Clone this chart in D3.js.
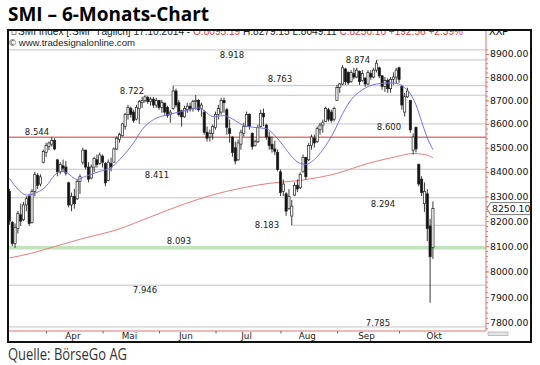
<!DOCTYPE html>
<html>
<head>
<meta charset="utf-8">
<script src="https://cdn.jsdelivr.net/npm/d3@7/dist/d3.min.js"></script>
<style>
  body { margin: 0; background: #fff; }
  svg { display: block; }
  text { font-family: "DejaVu Sans", sans-serif; }
</style>
</head>
<body>
<svg id="chart"></svg>
<script>
// daily candles, 13.03.2014 - 17.10.2014 (trading day index 0..150)
const opens  = [8320,8195,8110,8170,8225,8205,8265,8300,8195,8320,8385,8350,8440,8480,8505,8515,8530,8450,8400,8425,
                8420,8355,8265,8300,8290,8360,8440,8490,8420,8375,8420,8450,8435,8465,8435,8365,8435,8440,8495,8535,
                8550,8590,8640,8665,8650,8620,8665,8690,8700,8712,8695,8705,8680,8700,8670,8688,8670,8640,8665,8740,
                8690,8655,8630,8660,8675,8665,8695,8700,8665,8650,8565,8545,8560,8585,8640,8650,8700,8660,8580,8545,
                8500,8450,8515,8560,8590,8640,8560,8510,8525,8590,8645,8595,8545,8515,8495,8480,8400,8320,8310,8250,
                8220,8305,8345,8335,8400,8460,8450,8510,8540,8525,8575,8595,8610,8660,8650,8620,8700,8755,8770,8835,
                8820,8780,8815,8800,8825,8785,8795,8770,8815,8800,8830,8840,8805,8760,8785,8750,8790,8800,8840,8760,
                8650,8715,8700,8490,8585,8430,8370,8270,8310,8180,8095.19];
const highs  = [8330,8200,8190,8240,8270,8277,8300,8310,8330,8400,8395,8390,8492,8521,8526,8544,8540,8451,8440,8451,
                8445,8360,8315,8330,8370,8390,8500,8492,8440,8431,8463,8472,8480,8472,8440,8451,8459,8501,8547,8563,
                8605,8647,8681,8673,8660,8681,8702,8715,8722,8719,8715,8715,8711,8702,8702,8690,8677,8660,8763,8750,
                8702,8660,8677,8690,8690,8702,8723,8705,8690,8660,8589,8576,8597,8652,8681,8711,8711,8668,8618,8547,
                8526,8534,8576,8605,8652,8645,8565,8534,8597,8660,8665,8600,8568,8547,8530,8492,8410,8369,8317,8329,
                8285,8357,8369,8398,8472,8463,8521,8555,8555,8589,8605,8618,8673,8668,8660,8673,8766,8775,8852,8840,
                8825,8830,8840,8840,8828,8830,8800,8830,8830,8840,8874,8845,8809,8800,8795,8800,8820,8840,8845,8766,
                8732,8754,8702,8560,8589,8435,8382,8357,8329,8209,8279.15];
const lows   = [8185,8100,8093,8150,8180,8200,8240,8180,8190,8300,8330,8340,8435,8462,8490,8505,8490,8382,8390,8400,
                8385,8255,8240,8250,8285,8310,8430,8410,8357,8369,8398,8418,8430,8418,8341,8361,8402,8439,8490,8521,
                8547,8576,8618,8626,8605,8615,8600,8668,8690,8685,8677,8668,8668,8660,8647,8639,8626,8605,8660,8670,
                8631,8589,8626,8647,8652,8652,8660,8652,8631,8555,8526,8526,8534,8576,8618,8639,8647,8555,8521,8463,
                8431,8445,8492,8547,8589,8576,8492,8505,8520,8585,8590,8534,8492,8480,8470,8402,8301,8301,8221,8245,
                8183,8301,8317,8330,8398,8369,8445,8492,8500,8520,8555,8563,8610,8610,8605,8610,8700,8732,8765,8766,
                8766,8775,8790,8795,8766,8780,8758,8765,8788,8795,8820,8795,8745,8736,8732,8732,8766,8770,8775,8660,
                8631,8711,8563,8472,8480,8341,8301,8237,8120,7878,8049.11];
const closes = [8200,8110,8175,8230,8200,8265,8290,8190,8320,8390,8345,8380,8485,8510,8520,8530,8495,8400,8430,8415,
                8395,8265,8300,8270,8360,8380,8490,8420,8370,8420,8455,8430,8470,8440,8355,8440,8420,8495,8540,8555,
                8600,8640,8670,8640,8615,8670,8695,8700,8715,8695,8705,8680,8700,8670,8690,8650,8635,8650,8740,8680,
                8640,8630,8665,8675,8665,8695,8700,8660,8680,8565,8540,8560,8590,8640,8665,8700,8690,8585,8560,8480,
                8445,8520,8565,8590,8640,8590,8505,8525,8585,8645,8630,8545,8510,8495,8485,8410,8315,8350,8240,8300,
                8260,8345,8330,8390,8460,8380,8510,8545,8520,8580,8595,8605,8665,8620,8615,8665,8755,8770,8840,8780,
                8775,8820,8800,8830,8780,8815,8770,8820,8800,8830,8860,8805,8760,8785,8750,8790,8800,8830,8790,8680,
                8715,8740,8575,8545,8495,8350,8315,8320,8170,8057.54,8250.10];

// moving averages: [day index, value]
const fastAvg = [[0,8374],[3,8329],[6,8305],[10,8317],[13,8341],[16,8386],[18,8402],[20,8398],[24,8369],[27,8382],
                 [32,8402],[36,8418],[40,8463],[44,8521],[47,8576],[51,8618],[56,8639],[61,8652],[65,8664],[67,8668],
                 [69,8656],[72,8631],[76,8635],[80,8614],[83,8593],[87,8585],[91,8580],[94,8551],[97,8509],[100,8463],
                 [103,8435],[105,8431],[108,8451],[111,8492],[115,8568],[118,8643],[121,8702],[125,8745],[130,8770],
                 [135,8775],[138,8770],[140,8754],[142,8728],[144,8681],[146,8610],[148,8542],[150,8492]];
const slowAvg = [[0,8053],[8,8072],[16,8098],[26,8130],[38,8165],[50,8217],[62,8269],[73,8309],[82,8333],
                 [92,8353],[103,8365],[116,8394],[127,8435],[137,8463],[143,8476],[147,8472],[150,8459]];

// support / resistance levels, start day (null = whole width)
const levels     = [8918, 8874, 8763, 8722, 8600, 8544, 8411, 8294, 8183, 8093, 7946, 7785];
const levelFrom  = [null, 130, 58, 48, 46, null, null, null, 100, null, null, null];
const levelNames = ["8.918","8.874","8.763","8.722","8.600","8.544","8.411","8.294","8.183","8.093","7.946","7.785"];

const monthNames = ["Apr","Mai","Jun","Jul","Aug","Sep","Okt"];
const monthStart = [13, 33, 53, 73, 96, 116, 138];
const axisTicks  = [7800, 7900, 8000, 8100, 8200, 8300, 8400, 8500, 8600, 8700, 8800, 8900];
const lastClose  = 8250.10;

const width = 540, height = 365;
const plot = {left: 8, right: 486, top: 30, bottom: 331};

// label layout: centre x and baseline offset from the line
const labelPos = [[232,8.5],[358,3],[280,-3.5],[132,-1],[389,6.5],[37,-2],[157,9],[383,9],[267,3],[179,-3.5],[145,7.5],[378,-0.5]];

const svg = d3.select("#chart")
  .attr("width", width)
  .attr("height", height);

const xScale = d3.scaleLinear()
  .domain([-0.5, 168.8])
  .range([plot.left, plot.right]);

const yScale = d3.scaleLog()
  .domain([7800, 8900])
  .range([323, 54]);

svg.append("clipPath").attr("id", "plotclip")
  .append("rect")
  .attr("x", plot.left).attr("y", plot.top)
  .attr("width", plot.right - plot.left).attr("height", plot.bottom - plot.top);

svg.append("clipPath").attr("id", "frameclip")
  .append("rect")
  .attr("x", 8).attr("y", 30.5)
  .attr("width", 523).attr("height", 312);

// title
svg.append("text")
  .attr("x", 8).attr("y", 21)
  .attr("textLength", 201).attr("lengthAdjust", "spacingAndGlyphs")
  .style("font-family", "'Open Sans', sans-serif")
  .style("font-weight", "bold")
  .style("font-size", "19.5px")
  .text("SMI \u2013 6-Monats-Chart");

const graph = svg.append("g").attr("clip-path", "url(#plotclip)");

// level lines
levels.forEach((v, k) => {
  const isRed = v === 8544, isGreen = v === 8093;
  graph.append("line")
    .attr("x1", levelFrom[k] === null ? plot.left : xScale(levelFrom[k]))
    .attr("x2", plot.right)
    .attr("y1", yScale(v)).attr("y2", yScale(v))
    .attr("stroke", isRed ? "#e07878" : isGreen ? "#bfe3ba" : "#c4c4c4")
    .attr("stroke-width", isRed ? 1.6 : isGreen ? 3.5 : 1);
  graph.append("text")
    .attr("x", labelPos[k][0])
    .attr("y", yScale(v) + labelPos[k][1])
    .attr("text-anchor", "middle")
    .style("font-size", "8.5px")
    .attr("fill", "#222")
    .text(levelNames[k]);
});

// moving averages
const avgLine = d3.line()
  .x(d => xScale(d[0]))
  .y(d => yScale(d[1]))
  .curve(d3.curveMonotoneX);

graph.append("path")
  .datum(slowAvg)
  .attr("d", avgLine)
  .attr("fill", "none")
  .attr("stroke", "#ec7b7b")
  .attr("stroke-width", 1);

// candles
const candles = d3.range(opens.length).map(i => ({i: i, o: opens[i], h: highs[i], l: lows[i], c: closes[i]}));

graph.selectAll(".wick")
  .data(candles)
  .enter().append("line")
  .attr("class", "wick")
  .attr("x1", d => xScale(d.i)).attr("x2", d => xScale(d.i))
  .attr("y1", d => yScale(d.h)).attr("y2", d => yScale(d.l))
  .attr("stroke", "#222")
  .attr("stroke-width", 0.9);

graph.selectAll(".body")
  .data(candles)
  .enter().append("rect")
  .attr("class", "body")
  .attr("x", d => xScale(d.i) - 1.1)
  .attr("width", 2.2)
  .attr("y", d => yScale(Math.max(d.o, d.c)))
  .attr("height", d => Math.max(1, Math.abs(yScale(d.o) - yScale(d.c))))
  .attr("fill", d => d.c >= d.o ? "#fff" : "#111")
  .attr("stroke", "#222")
  .attr("stroke-width", 0.7);

graph.append("path")
  .datum(fastAvg)
  .attr("d", avgLine)
  .attr("fill", "none")
  .attr("stroke", "#7272ee")
  .attr("stroke-width", 1);

// header, its top is cut by the frame
const headerGroup = svg.append("g").attr("clip-path", "url(#frameclip)");
const header = headerGroup.append("text")
  .attr("x", 18).attr("y", 35)
  .attr("textLength", 445)
  .attr("lengthAdjust", "spacingAndGlyphs")
  .style("font-family", "'Liberation Sans', Arial, sans-serif")
  .style("font-size", "10.3px")
  .style("white-space", "pre")
  .attr("fill", "#222");
header.append("tspan").text("SMI Index [.SMI  T\u00e4glich] 17.10.2014 - ");
header.append("tspan").attr("fill", "#e03a3a").text("O:8095.19");
header.append("tspan").text(" H:8279.15 L:8049.11 ");
header.append("tspan").attr("fill", "#e03a3a").text("C:8250.10 +192.56 +2.39%");

headerGroup.append("rect")
  .attr("x", 12).attr("y", 29.5).attr("width", 4).attr("height", 5)
  .attr("fill", "none").attr("stroke", "#555").attr("stroke-width", 0.7);

svg.append("text")
  .attr("x", 9).attr("y", 46)
  .style("font-family", "'Liberation Sans', Arial, sans-serif")
  .style("font-size", "9.6px")
  .attr("fill", "#222")
  .text("\u00a9 www.tradesignalonline.com");

// right axis
svg.append("line")
  .attr("x1", plot.right).attr("x2", plot.right)
  .attr("y1", plot.top).attr("y2", plot.bottom)
  .attr("stroke", "#e07474");

const minorAxis = d3.axisRight(yScale)
  .tickValues(d3.range(7780, 8921, 20))
  .tickFormat("")
  .tickSize(2)
  .tickSizeOuter(0);
svg.append("g")
  .attr("transform", "translate(" + plot.right + ",0)")
  .call(minorAxis)
  .call(g => g.select(".domain").remove())
  .call(g => g.selectAll("line").attr("stroke", "#e07474"));

const yAxis = d3.axisRight(yScale)
  .tickValues(axisTicks)
  .tickFormat(d3.format(".2f"))
  .tickSize(3)
  .tickPadding(1)
  .tickSizeOuter(0);
svg.append("g")
  .attr("transform", "translate(" + plot.right + ",0)")
  .call(yAxis)
  .call(g => g.select(".domain").remove())
  .call(g => g.selectAll("line").attr("stroke", "#e07474"))
  .call(g => g.selectAll("text")
    .style("font-family", "'DejaVu Sans', sans-serif")
    .style("font-size", "9.3px")
    .attr("fill", "#111"));

headerGroup.append("text")
  .attr("x", 489).attr("y", 35)
  .style("font-family", "'Liberation Sans', Arial, sans-serif")
  .style("font-size", "10px")
  .text("XXP");

// last price marker
const yLast = yScale(lastClose);
svg.append("path")
  .attr("d", "M" + 487 + "," + yLast + "L" + 490.5 + "," + (yLast - 6) + "H531V" + (yLast + 6) + "H490.5Z")
  .attr("fill", "#fff")
  .attr("stroke", "#555")
  .attr("stroke-width", 0.8);
svg.append("text")
  .attr("x", 492).attr("y", yLast + 3.5)
  .style("font-size", "9.3px")
  .attr("fill", "#111")
  .text(d3.format(".2f")(lastClose));

// bottom axis
svg.append("line")
  .attr("x1", plot.left).attr("x2", plot.right)
  .attr("y1", plot.bottom).attr("y2", plot.bottom)
  .attr("stroke", "#e07474")
  .attr("stroke-width", 1.2);

const xAxis = d3.axisBottom(xScale)
  .tickValues(monthStart)
  .tickFormat("")
  .tickSize(2.5)
  .tickSizeOuter(0);
svg.append("g")
  .attr("transform", "translate(0," + plot.bottom + ")")
  .call(xAxis)
  .call(g => g.select(".domain").remove())
  .call(g => g.selectAll("line").attr("stroke", "#666"));

svg.selectAll(".month")
  .data(monthNames)
  .enter().append("text")
  .attr("class", "month")
  .attr("x", (d, k) => xScale(((monthStart[k] + (monthStart[k + 1] || 164)) / 2) - 0.5))
  .attr("y", 339)
  .attr("text-anchor", "middle")
  .style("font-size", "8.8px")
  .attr("fill", "#222")
  .text(d => d);

// small scroll widget
svg.append("rect")
  .attr("x", 488).attr("y", 332).attr("width", 20).attr("height", 3.5)
  .attr("fill", "#e4e4e4").attr("stroke", "#999").attr("stroke-width", 0.6);

// frame
svg.append("rect")
  .attr("x", 8).attr("y", 30)
  .attr("width", 523).attr("height", 312)
  .attr("fill", "none")
  .attr("stroke", "#111")
  .attr("stroke-width", 2);

svg.append("text")
  .attr("x", 8).attr("y", 360)
  .attr("textLength", 119).attr("lengthAdjust", "spacingAndGlyphs")
  .style("font-family", "'Open Sans', sans-serif")
  .style("font-size", "16.5px")
  .attr("fill", "#333")
  .text("Quelle: B\u00f6rseGo AG");
</script>
</body>
</html>
